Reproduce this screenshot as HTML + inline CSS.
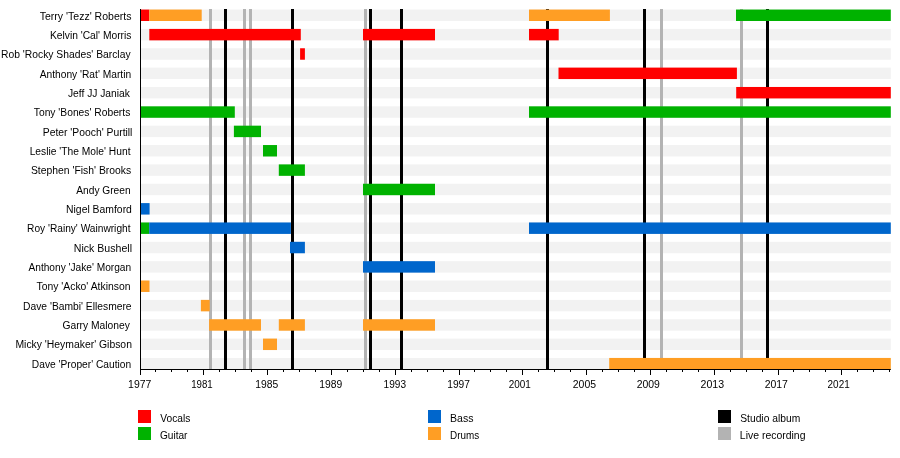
<!DOCTYPE html><html><head><meta charset="utf-8"><style>html,body{margin:0;padding:0;background:#fff;}body{width:900px;height:458px;overflow:hidden;}svg{display:block;will-change:transform;}text{font-family:"Liberation Sans",sans-serif;font-size:11px;fill:#000;}</style></head><body>
<svg width="900" height="458" viewBox="0 0 900 458">
<rect x="0" y="0" width="900" height="458" fill="#fff"/>
<rect x="141" y="9.55" width="749.80" height="11.45" fill="#f2f2f2"/>
<rect x="141" y="28.91" width="749.80" height="11.45" fill="#f2f2f2"/>
<rect x="141" y="48.26" width="749.80" height="11.45" fill="#f2f2f2"/>
<rect x="141" y="67.61" width="749.80" height="11.45" fill="#f2f2f2"/>
<rect x="141" y="86.97" width="749.80" height="11.45" fill="#f2f2f2"/>
<rect x="141" y="106.33" width="749.80" height="11.45" fill="#f2f2f2"/>
<rect x="141" y="125.68" width="749.80" height="11.45" fill="#f2f2f2"/>
<rect x="141" y="145.04" width="749.80" height="11.45" fill="#f2f2f2"/>
<rect x="141" y="164.39" width="749.80" height="11.45" fill="#f2f2f2"/>
<rect x="141" y="183.75" width="749.80" height="11.45" fill="#f2f2f2"/>
<rect x="141" y="203.10" width="749.80" height="11.45" fill="#f2f2f2"/>
<rect x="141" y="222.46" width="749.80" height="11.45" fill="#f2f2f2"/>
<rect x="141" y="241.81" width="749.80" height="11.45" fill="#f2f2f2"/>
<rect x="141" y="261.17" width="749.80" height="11.45" fill="#f2f2f2"/>
<rect x="141" y="280.52" width="749.80" height="11.45" fill="#f2f2f2"/>
<rect x="141" y="299.88" width="749.80" height="11.45" fill="#f2f2f2"/>
<rect x="141" y="319.23" width="749.80" height="11.45" fill="#f2f2f2"/>
<rect x="141" y="338.59" width="749.80" height="11.45" fill="#f2f2f2"/>
<rect x="141" y="357.94" width="749.80" height="11.45" fill="#f2f2f2"/>
<rect x="209.00" y="9" width="3.0" height="360" fill="#b3b3b3"/>
<rect x="224.00" y="9" width="3.0" height="360" fill="#000000"/>
<rect x="243.00" y="9" width="3.0" height="360" fill="#b3b3b3"/>
<rect x="249.00" y="9" width="3.0" height="360" fill="#b3b3b3"/>
<rect x="291.00" y="9" width="3.0" height="360" fill="#000000"/>
<rect x="364.00" y="9" width="3.0" height="360" fill="#b3b3b3"/>
<rect x="369.00" y="9" width="3.0" height="360" fill="#000000"/>
<rect x="400.00" y="9" width="3.0" height="360" fill="#000000"/>
<rect x="546.00" y="9" width="3.0" height="360" fill="#000000"/>
<rect x="643.00" y="9" width="3.0" height="360" fill="#000000"/>
<rect x="660.00" y="9" width="3.0" height="360" fill="#b3b3b3"/>
<rect x="740.00" y="9" width="3.0" height="360" fill="#b3b3b3"/>
<rect x="766.00" y="9" width="3.0" height="360" fill="#000000"/>
<rect x="141.00" y="9.55" width="8.30" height="11.45" fill="#ff0000"/>
<rect x="149.30" y="9.55" width="52.40" height="11.45" fill="#ff9e24"/>
<rect x="529.00" y="9.55" width="80.90" height="11.45" fill="#ff9e24"/>
<rect x="736.00" y="9.55" width="154.80" height="11.45" fill="#00b200"/>
<rect x="149.30" y="28.91" width="151.50" height="11.45" fill="#ff0000"/>
<rect x="363.00" y="28.91" width="72.00" height="11.45" fill="#ff0000"/>
<rect x="529.00" y="28.91" width="29.70" height="11.45" fill="#ff0000"/>
<rect x="300.10" y="48.26" width="4.80" height="11.45" fill="#ff0000"/>
<rect x="558.50" y="67.61" width="178.40" height="11.45" fill="#ff0000"/>
<rect x="736.20" y="86.97" width="154.60" height="11.45" fill="#ff0000"/>
<rect x="141.00" y="106.33" width="93.80" height="11.45" fill="#00b200"/>
<rect x="529.00" y="106.33" width="361.80" height="11.45" fill="#00b200"/>
<rect x="233.90" y="125.68" width="27.10" height="11.45" fill="#00b200"/>
<rect x="263.00" y="145.04" width="14.00" height="11.45" fill="#00b200"/>
<rect x="278.80" y="164.39" width="26.10" height="11.45" fill="#00b200"/>
<rect x="363.00" y="183.75" width="72.00" height="11.45" fill="#00b200"/>
<rect x="141.00" y="203.10" width="8.60" height="11.45" fill="#0066cc"/>
<rect x="141.00" y="222.46" width="8.20" height="11.45" fill="#00b200"/>
<rect x="149.20" y="222.46" width="141.70" height="11.45" fill="#0066cc"/>
<rect x="529.00" y="222.46" width="361.80" height="11.45" fill="#0066cc"/>
<rect x="290.00" y="241.81" width="14.90" height="11.45" fill="#0066cc"/>
<rect x="363.00" y="261.17" width="72.00" height="11.45" fill="#0066cc"/>
<rect x="141.00" y="280.52" width="8.50" height="11.45" fill="#ff9e24"/>
<rect x="200.90" y="299.88" width="8.80" height="11.45" fill="#ff9e24"/>
<rect x="209.10" y="319.23" width="51.90" height="11.45" fill="#ff9e24"/>
<rect x="278.80" y="319.23" width="26.10" height="11.45" fill="#ff9e24"/>
<rect x="363.00" y="319.23" width="72.00" height="11.45" fill="#ff9e24"/>
<rect x="263.00" y="338.59" width="14.00" height="11.45" fill="#ff9e24"/>
<rect x="609.20" y="357.94" width="281.60" height="11.45" fill="#ff9e24"/>
<rect x="140" y="9" width="1" height="361" fill="#000"/>
<rect x="140" y="369" width="750.8" height="1" fill="#000"/>
<rect x="140" y="369" width="1" height="6" fill="#000"/>
<rect x="155" y="369" width="1" height="3" fill="#000"/>
<rect x="171" y="369" width="1" height="3" fill="#000"/>
<rect x="187" y="369" width="1" height="3" fill="#000"/>
<rect x="203" y="369" width="1" height="6" fill="#000"/>
<rect x="219" y="369" width="1" height="3" fill="#000"/>
<rect x="235" y="369" width="1" height="3" fill="#000"/>
<rect x="251" y="369" width="1" height="3" fill="#000"/>
<rect x="267" y="369" width="1" height="6" fill="#000"/>
<rect x="283" y="369" width="1" height="3" fill="#000"/>
<rect x="299" y="369" width="1" height="3" fill="#000"/>
<rect x="315" y="369" width="1" height="3" fill="#000"/>
<rect x="331" y="369" width="1" height="6" fill="#000"/>
<rect x="347" y="369" width="1" height="3" fill="#000"/>
<rect x="363" y="369" width="1" height="3" fill="#000"/>
<rect x="379" y="369" width="1" height="3" fill="#000"/>
<rect x="395" y="369" width="1" height="6" fill="#000"/>
<rect x="411" y="369" width="1" height="3" fill="#000"/>
<rect x="427" y="369" width="1" height="3" fill="#000"/>
<rect x="443" y="369" width="1" height="3" fill="#000"/>
<rect x="459" y="369" width="1" height="6" fill="#000"/>
<rect x="474" y="369" width="1" height="3" fill="#000"/>
<rect x="490" y="369" width="1" height="3" fill="#000"/>
<rect x="506" y="369" width="1" height="3" fill="#000"/>
<rect x="522" y="369" width="1" height="6" fill="#000"/>
<rect x="538" y="369" width="1" height="3" fill="#000"/>
<rect x="554" y="369" width="1" height="3" fill="#000"/>
<rect x="570" y="369" width="1" height="3" fill="#000"/>
<rect x="586" y="369" width="1" height="6" fill="#000"/>
<rect x="602" y="369" width="1" height="3" fill="#000"/>
<rect x="618" y="369" width="1" height="3" fill="#000"/>
<rect x="634" y="369" width="1" height="3" fill="#000"/>
<rect x="650" y="369" width="1" height="6" fill="#000"/>
<rect x="666" y="369" width="1" height="3" fill="#000"/>
<rect x="682" y="369" width="1" height="3" fill="#000"/>
<rect x="698" y="369" width="1" height="3" fill="#000"/>
<rect x="714" y="369" width="1" height="6" fill="#000"/>
<rect x="730" y="369" width="1" height="3" fill="#000"/>
<rect x="746" y="369" width="1" height="3" fill="#000"/>
<rect x="762" y="369" width="1" height="3" fill="#000"/>
<rect x="778" y="369" width="1" height="6" fill="#000"/>
<rect x="793" y="369" width="1" height="3" fill="#000"/>
<rect x="809" y="369" width="1" height="3" fill="#000"/>
<rect x="825" y="369" width="1" height="3" fill="#000"/>
<rect x="841" y="369" width="1" height="6" fill="#000"/>
<rect x="857" y="369" width="1" height="3" fill="#000"/>
<rect x="873" y="369" width="1" height="3" fill="#000"/>
<rect x="889" y="369" width="1" height="3" fill="#000"/>
<text transform="translate(128.09,387.90) scale(0.9502,1)">1977</text>
<text transform="translate(191.15,387.90) scale(0.8801,1)">1981</text>
<text transform="translate(255.30,387.90) scale(0.9373,1)">1985</text>
<text transform="translate(319.20,387.90) scale(0.9399,1)">1989</text>
<text transform="translate(383.62,387.90) scale(0.9164,1)">1993</text>
<text transform="translate(447.21,387.90) scale(0.9285,1)">1997</text>
<text transform="translate(508.80,387.90) scale(0.9030,1)">2001</text>
<text transform="translate(572.78,387.90) scale(0.9509,1)">2005</text>
<text transform="translate(636.68,387.90) scale(0.9492,1)">2009</text>
<text transform="translate(700.57,387.90) scale(0.9644,1)">2013</text>
<text transform="translate(764.68,387.90) scale(0.9508,1)">2017</text>
<text transform="translate(827.60,387.90) scale(0.9030,1)">2021</text>
<text transform="translate(39.76,20.00) scale(0.9577,1)">Terry &#39;Tezz&#39; Roberts</text>
<text transform="translate(49.96,39.00) scale(0.9344,1)">Kelvin &#39;Cal&#39; Morris</text>
<text transform="translate(1.06,58.00) scale(0.9386,1)">Rob &#39;Rocky Shades&#39; Barclay</text>
<text transform="translate(39.66,78.00) scale(0.9313,1)">Anthony &#39;Rat&#39; Martin</text>
<text transform="translate(67.92,97.00) scale(0.9350,1)">Jeff JJ Janiak</text>
<text transform="translate(33.77,116.00) scale(0.9356,1)">Tony &#39;Bones&#39; Roberts</text>
<text transform="translate(42.76,136.00) scale(0.9418,1)">Peter &#39;Pooch&#39; Purtill</text>
<text transform="translate(29.66,155.00) scale(0.9339,1)">Leslie &#39;The Mole&#39; Hunt</text>
<text transform="translate(30.90,174.00) scale(0.9443,1)">Stephen &#39;Fish&#39; Brooks</text>
<text transform="translate(76.26,194.00) scale(0.9265,1)">Andy Green</text>
<text transform="translate(66.05,213.00) scale(0.9460,1)">Nigel Bamford</text>
<text transform="translate(27.07,232.00) scale(0.9252,1)">Roy &#39;Rainy&#39; Wainwright</text>
<text transform="translate(73.84,252.00) scale(0.9615,1)">Nick Bushell</text>
<text transform="translate(28.46,271.00) scale(0.9243,1)">Anthony &#39;Jake&#39; Morgan</text>
<text transform="translate(36.46,290.00) scale(0.9460,1)">Tony &#39;Acko&#39; Atkinson</text>
<text transform="translate(23.06,310.00) scale(0.9363,1)">Dave &#39;Bambi&#39; Ellesmere</text>
<text transform="translate(62.48,329.00) scale(0.9357,1)">Garry Maloney</text>
<text transform="translate(15.45,348.00) scale(0.9451,1)">Micky &#39;Heymaker&#39; Gibson</text>
<text transform="translate(31.87,368.00) scale(0.9295,1)">Dave &#39;Proper&#39; Caution</text>
<rect x="138" y="410" width="13" height="13" fill="#ff0000"/>
<text transform="translate(160.30,421.90) scale(0.9280,1)">Vocals</text>
<rect x="138" y="427" width="13" height="13" fill="#00b200"/>
<text transform="translate(159.89,438.70) scale(0.9210,1)">Guitar</text>
<rect x="428" y="410" width="13" height="13" fill="#0066cc"/>
<text transform="translate(450.04,421.90) scale(0.9580,1)">Bass</text>
<rect x="428" y="427" width="13" height="13" fill="#ff9e24"/>
<text transform="translate(450.09,438.70) scale(0.9007,1)">Drums</text>
<rect x="718" y="410" width="13" height="13" fill="#000000"/>
<text transform="translate(740.20,421.90) scale(0.9357,1)">Studio album</text>
<rect x="718" y="427" width="13" height="13" fill="#b3b3b3"/>
<text transform="translate(739.85,438.70) scale(0.9515,1)">Live recording</text>
</svg></body></html>
